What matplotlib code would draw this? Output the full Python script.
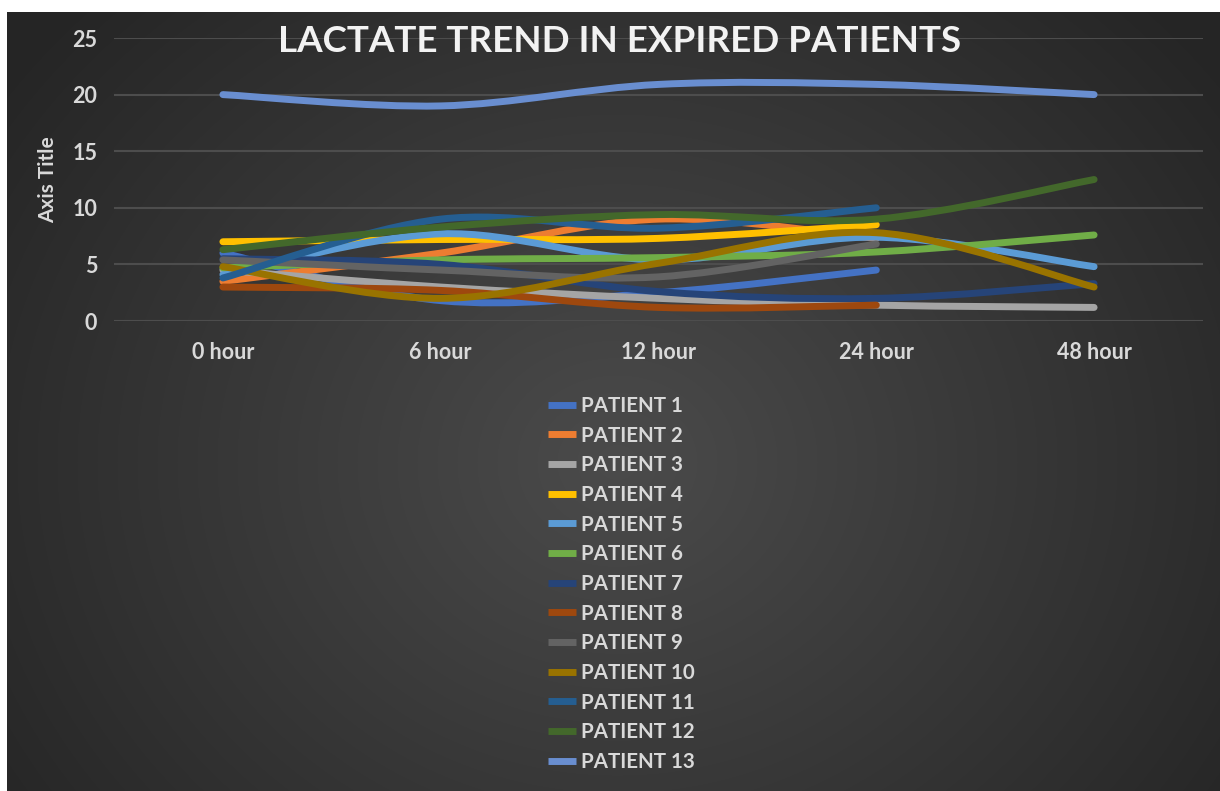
import numpy as np
import matplotlib
matplotlib.use('Agg')
import matplotlib.pyplot as plt
from matplotlib.path import Path
from matplotlib.patches import PathPatch
from matplotlib.lines import Line2D

# Data (lactate, mmol/L)
TIMEPOINTS = ['0 hour', '6 hour', '12 hour', '24 hour', '48 hour']

PATIENT_1 = [6.0, 1.8, 2.5, 4.5]
PATIENT_2 = [3.5, 6.0, 9.0, 7.3]
PATIENT_3 = [4.5, 3.0, 2.0, 1.4, 1.2]
PATIENT_4 = [7.0, 7.2, 7.3, 8.5]
PATIENT_5 = [4.1, 7.7, 5.4, 7.4, 4.8]
PATIENT_6 = [4.7, 5.4, 5.6, 6.1, 7.6]
PATIENT_7 = [5.5, 5.0, 2.6, 2.0, 3.3]
PATIENT_8 = [3.0, 2.7, 1.2, 1.4]
PATIENT_9 = [5.4, 4.5, 3.9, 6.8]
PATIENT_10 = [4.8, 2.0, 5.1, 7.8, 3.0]
PATIENT_11 = [3.8, 9.0, 8.2, 10.0]
PATIENT_12 = [6.3, 8.3, 9.4, 9.0, 12.5]
PATIENT_13 = [20.0, 19.0, 20.9, 20.9, 20.0]

SERIES = [PATIENT_1, PATIENT_2, PATIENT_3, PATIENT_4, PATIENT_5, PATIENT_6,
          PATIENT_7, PATIENT_8, PATIENT_9, PATIENT_10, PATIENT_11, PATIENT_12,
          PATIENT_13]
LABELS = ['PATIENT %d' % (i + 1) for i in range(len(SERIES))]

COLORS = ['#4472C4', '#ED7D31', '#A5A5A5', '#FFC000', '#5B9BD5', '#70AD47',
          '#264478', '#9E480E', '#636363', '#997300', '#255E91', '#43682B',
          '#698ED0']

W, H = 1220, 791
FONT = 'Lato'
TEXT_COLOR = '#d9d9d9'


def smooth_path(xs, ys):
    # Excel-style smoothed line: Catmull-Rom segments as cubic Bezier curves
    pts = np.column_stack([xs, ys]).astype(float)
    n = len(pts)
    verts = [pts[0]]
    codes = [Path.MOVETO]
    for i in range(n - 1):
        p0 = pts[max(i - 1, 0)]
        p1 = pts[i]
        p2 = pts[i + 1]
        p3 = pts[min(i + 2, n - 1)]
        c1 = p1 + (p2 - p0) / 6.0
        c2 = p2 - (p3 - p1) / 6.0
        verts += [c1, c2, p2]
        codes += [Path.CURVE4] * 3
    return Path(verts, codes)


def main():
    fig = plt.figure(figsize=(W / 100, H / 100), dpi=100)
    fig.patch.set_facecolor('white')

    # dark radial-gradient chart background
    bg = fig.add_axes([7 / W, 0, 1 - 7 / W, 1 - 12 / H])
    yy, xx = np.mgrid[0:779, 0:1213]
    d = np.hypot(xx - 610, (yy - 450) * 1.15) / 760.0
    d = np.clip(d, 0, 1)
    inner = np.array([0x4b, 0x4b, 0x4b]) / 255.0
    outer = np.array([0x25, 0x25, 0x25]) / 255.0
    img = inner[None, None, :] * (1 - d[..., None]) + outer[None, None, :] * d[..., None]
    bg.imshow(img, aspect='auto', interpolation='bilinear')
    bg.axis('off')

    ax = fig.add_axes([114 / W, 1 - 321 / H, (1203 - 114) / W, 283 / H])
    ax.patch.set_alpha(0)
    ax.set_xlim(-0.5, len(TIMEPOINTS) - 0.5)
    ax.set_ylim(0, 25)

    for vals, color in zip(SERIES, COLORS):
        xs = np.arange(len(vals))
        patch = PathPatch(smooth_path(xs, vals), fill=False, edgecolor=color,
                          lw=5, capstyle='round', joinstyle='round', zorder=3)
        ax.add_patch(patch)

    ax.set_yticks(np.arange(0, 26, 5))
    ax.set_xticks(np.arange(len(TIMEPOINTS)))
    ax.set_xticklabels(TIMEPOINTS)
    ax.grid(axis='y', color='#4d4d4d', lw=1.5, zorder=0)
    ax.tick_params(length=0, colors=TEXT_COLOR, labelsize=15.5)
    ax.tick_params(axis='x', pad=15)
    ax.tick_params(axis='y', pad=12)
    for lab in ax.get_xticklabels() + ax.get_yticklabels():
        lab.set_fontfamily(FONT)
        lab.set_fontweight('bold')
    for s in ax.spines.values():
        s.set_visible(False)

    fig.text(48 / W, 1 - 180 / H, 'Axis Title', rotation=90, ha='center',
             va='center', fontsize=15, color=TEXT_COLOR, family=FONT,
             fontweight='bold')

    fig.text(620 / W, 1 - 41 / H, 'LACTATE TREND IN EXPIRED PATIENTS',
             ha='center', va='center', fontsize=26.5, color='#f2f2f2',
             family=FONT, fontweight='bold')

    handles = [Line2D([], [], color=c, lw=5, solid_capstyle='butt')
               for c in COLORS]
    leg = fig.legend(handles, LABELS, loc='upper left',
                     bbox_to_anchor=(548 / W, 1 - 396 / H), frameon=False,
                     handlelength=1.35, handletextpad=0.25,
                     labelspacing=0.47, borderpad=0, borderaxespad=0,
                     prop={'family': FONT, 'weight': 'bold', 'size': 14.8})
    for t in leg.get_texts():
        t.set_color(TEXT_COLOR)

    fig.savefig('out.png', dpi=100, facecolor=fig.get_facecolor())


if __name__ == '__main__':
    main()
